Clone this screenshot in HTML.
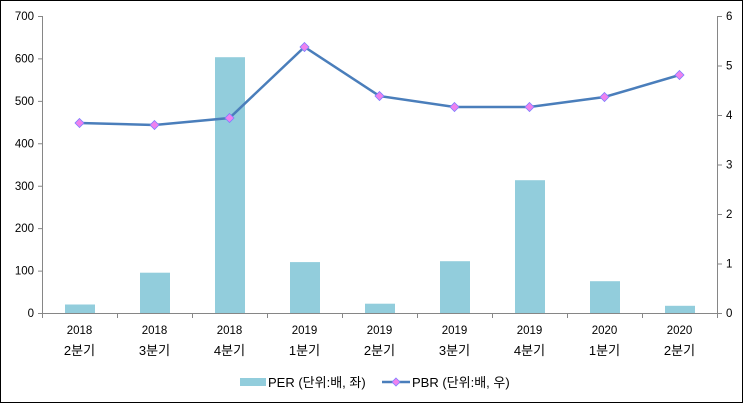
<!DOCTYPE html>
<html><head><meta charset="utf-8"><style>
body{margin:0;background:#fff}
text{font-family:"Liberation Sans","Noto Sans CJK KR",sans-serif;font-size:11.5px;fill:#000}
.k{font-size:13px}
</style></head><body>
<svg width="743" height="403" xmlns="http://www.w3.org/2000/svg">
<rect x="0.5" y="0.5" width="742" height="402" fill="#fff" stroke="#000"/>
<g fill="#92cddc">
<rect x="65" y="304.5" width="30" height="8.5"/>
<rect x="140" y="272.7" width="30" height="40.3"/>
<rect x="215" y="57.2" width="30" height="255.8"/>
<rect x="290" y="262.1" width="30" height="50.9"/>
<rect x="365" y="303.7" width="30" height="9.3"/>
<rect x="440" y="261.2" width="30" height="51.8"/>
<rect x="515" y="180.2" width="30" height="132.8"/>
<rect x="590" y="281.2" width="30" height="31.8"/>
<rect x="665" y="305.8" width="30" height="7.2"/>
</g>
<g stroke="#868686" stroke-width="1" fill="none">
<path d="M42.5 16V313.5H717.5V16"/>
<path d="M38 16.5h4M38 58.9h4M38 101.4h4M38 143.8h4M38 186.2h4M38 228.6h4M38 271.1h4M38 313.5h4"/>
<path d="M717 16.5h5M717 66h5M717 115.5h5M717 165h5M717 214.5h5M717 264h5M717 313.5h5"/>
<path d="M42.5 313v5M117.5 313v5M192.5 313v5M267.5 313v5M342.5 313v5M417.5 313v5M492.5 313v5M567.5 313v5M642.5 313v5M717.5 313v5"/>
</g>
<g text-anchor="end">
<text x="34" y="20">700</text><text x="34" y="62.5">600</text><text x="34" y="105">500</text><text x="34" y="147.5">400</text><text x="34" y="190">300</text><text x="34" y="232">200</text><text x="34" y="274.5">100</text><text x="34" y="317">0</text>
</g>
<g>
<text x="726" y="20">6</text><text x="726" y="69.5">5</text><text x="726" y="119">4</text><text x="726" y="168.5">3</text><text x="726" y="218">2</text><text x="726" y="267.5">1</text><text x="726" y="317">0</text>
</g>
<g text-anchor="middle">
<text x="79.5" y="334">2018</text><text class="k" x="79.5" y="355">2분기</text>
<text x="154.5" y="334">2018</text><text class="k" x="154.5" y="355">3분기</text>
<text x="229.5" y="334">2018</text><text class="k" x="229.5" y="355">4분기</text>
<text x="304.5" y="334">2019</text><text class="k" x="304.5" y="355">1분기</text>
<text x="379.5" y="334">2019</text><text class="k" x="379.5" y="355">2분기</text>
<text x="454.5" y="334">2019</text><text class="k" x="454.5" y="355">3분기</text>
<text x="529.5" y="334">2019</text><text class="k" x="529.5" y="355">4분기</text>
<text x="604.5" y="334">2020</text><text class="k" x="604.5" y="355">1분기</text>
<text x="679.5" y="334">2020</text><text class="k" x="679.5" y="355">2분기</text>
</g>
<polyline points="79.5,123 154.5,125 229.5,118 304.5,47 379.5,96 454.5,107 529.5,107 604.5,97 679.5,75" fill="none" stroke="#4a7ebb" stroke-width="2.5"/>
<g fill="#ee82ee" stroke="#7f7fff" stroke-width="0.8">
<path d="M79.5 118.5l4.5 4.5-4.5 4.5-4.5-4.5z"/><path d="M154.5 120.5l4.5 4.5-4.5 4.5-4.5-4.5z"/><path d="M229.5 113.5l4.5 4.5-4.5 4.5-4.5-4.5z"/><path d="M304.5 42.5l4.5 4.5-4.5 4.5-4.5-4.5z"/><path d="M379.5 91.5l4.5 4.5-4.5 4.5-4.5-4.5z"/><path d="M454.5 102.5l4.5 4.5-4.5 4.5-4.5-4.5z"/><path d="M529.5 102.5l4.5 4.5-4.5 4.5-4.5-4.5z"/><path d="M604.5 92.5l4.5 4.5-4.5 4.5-4.5-4.5z"/><path d="M679.5 70.5l4.5 4.5-4.5 4.5-4.5-4.5z"/>
</g>
<rect x="240" y="378" width="26" height="8" fill="#92cddc"/>
<text class="k" x="268" y="387">PER (단위:배, 좌)</text>
<line x1="382" y1="382" x2="410" y2="382" stroke="#4a7ebb" stroke-width="2.5"/>
<path d="M396 378l4 4-4 4-4-4z" fill="#ee82ee" stroke="#7f7fff" stroke-width="0.8"/>
<text class="k" x="412" y="387">PBR (단위:배, 우)</text>
</svg>
</body></html>
